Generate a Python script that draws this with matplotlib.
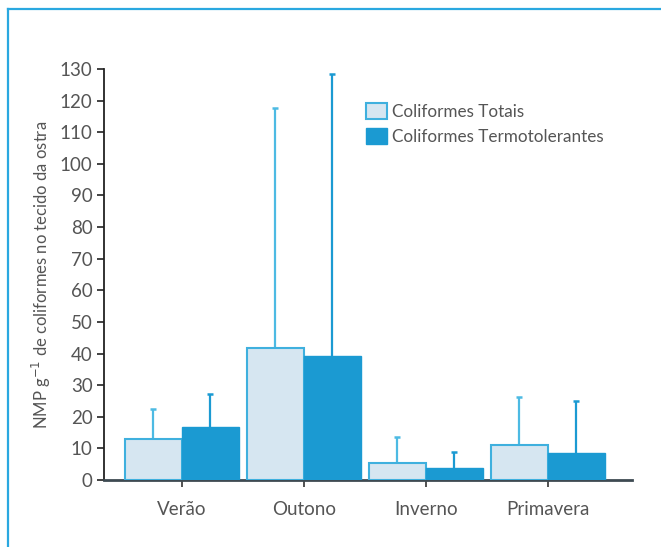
import matplotlib
matplotlib.use("Agg")
import matplotlib.pyplot as plt
from matplotlib.patches import Patch
from matplotlib.lines import Line2D
import numpy as np

seasons = ["Verão", "Outono", "Inverno", "Primavera"]
totais = [12.9, 41.6, 5.4, 11.0]
totais_err_top = [22.6, 117.7, 13.7, 26.2]
termo = [16.8, 39.1, 3.7, 8.6]
termo_err_top = [27.2, 128.4, 8.9, 25.1]
yticks = list(range(0, 131, 10))

plt.rcParams['font.family'] = ['Lato', 'DejaVu Sans']
text_color = "#555555"

fig = plt.figure(figsize=(6.61, 5.47), dpi=100)
ax = fig.add_axes([0.157, 0.1225, 0.799, 0.7515])

x = np.arange(len(seasons))
w = 0.467
light_fill = "#d6e6f1"
light_edge = "#3fb0de"
dark = "#1b9ad2"

ax.bar(x - w/2, totais, width=w, color=light_fill, edgecolor=light_edge, linewidth=1.5, zorder=3)
ax.bar(x + w/2, termo, width=w, color=dark, edgecolor=dark, linewidth=1.0, zorder=3)

# upper-only error bars
ax.vlines(x - w/2, totais, totais_err_top, color="#4dbae3", linewidth=1.6, zorder=2)
ax.plot(x - w/2, totais_err_top, linestyle='none', marker='_', markersize=5,
        markeredgewidth=1.8, color="#4dbae3", zorder=2)
ax.vlines(x + w/2, termo, termo_err_top, color=dark, linewidth=1.6, zorder=2)
ax.plot(x + w/2, termo_err_top, linestyle='none', marker='_', markersize=5,
        markeredgewidth=1.8, color=dark, zorder=2)

ax.set_xlim(-0.64, 3.69)
ax.set_ylim(0, 130)
ax.set_yticks(yticks)
ax.set_yticklabels([str(v) for v in yticks], fontsize=13.5, color=text_color)
ax.set_xticks(x)
ax.set_xticklabels(seasons, fontsize=13.5, color=text_color)
ax.tick_params(axis='x', length=5, width=1.2, color="#333333", pad=10)
ax.tick_params(axis='y', length=5, width=1.2, color="#222222", pad=3)

for s in ['top', 'right']:
    ax.spines[s].set_visible(False)
ax.spines['left'].set_color("#222222")
ax.spines['left'].set_linewidth(1.3)
ax.spines['bottom'].set_color("#3d4a52")
ax.spines['bottom'].set_linewidth(2.0)

ax.set_ylabel("NMP g$^{-1}$ de coliformes no tecido da ostra", fontsize=12, color=text_color,
              labelpad=5)

handles = [Patch(facecolor=light_fill, edgecolor=light_edge, linewidth=1.5),
           Patch(facecolor=dark, edgecolor=dark)]
leg = ax.legend(handles, ["Coliformes Totais", "Coliformes Termotolerantes"],
                loc='upper left', bbox_to_anchor=(0.467, 0.955), frameon=False,
                fontsize=12.3, handlelength=1.25, handleheight=1.05, handletextpad=0.3,
                labelspacing=0.5)
for t in leg.get_texts():
    t.set_color(text_color)

# outer frame (left and top)
fig.add_artist(Line2D([8/661, 8/661], [0, 1 - 9/547], transform=fig.transFigure,
                      color="#2aa8e0", linewidth=1.6))
fig.add_artist(Line2D([8/661, 1], [1 - 9/547, 1 - 9/547], transform=fig.transFigure,
                      color="#2aa8e0", linewidth=1.6))

fig.savefig("out.png", dpi=100)
